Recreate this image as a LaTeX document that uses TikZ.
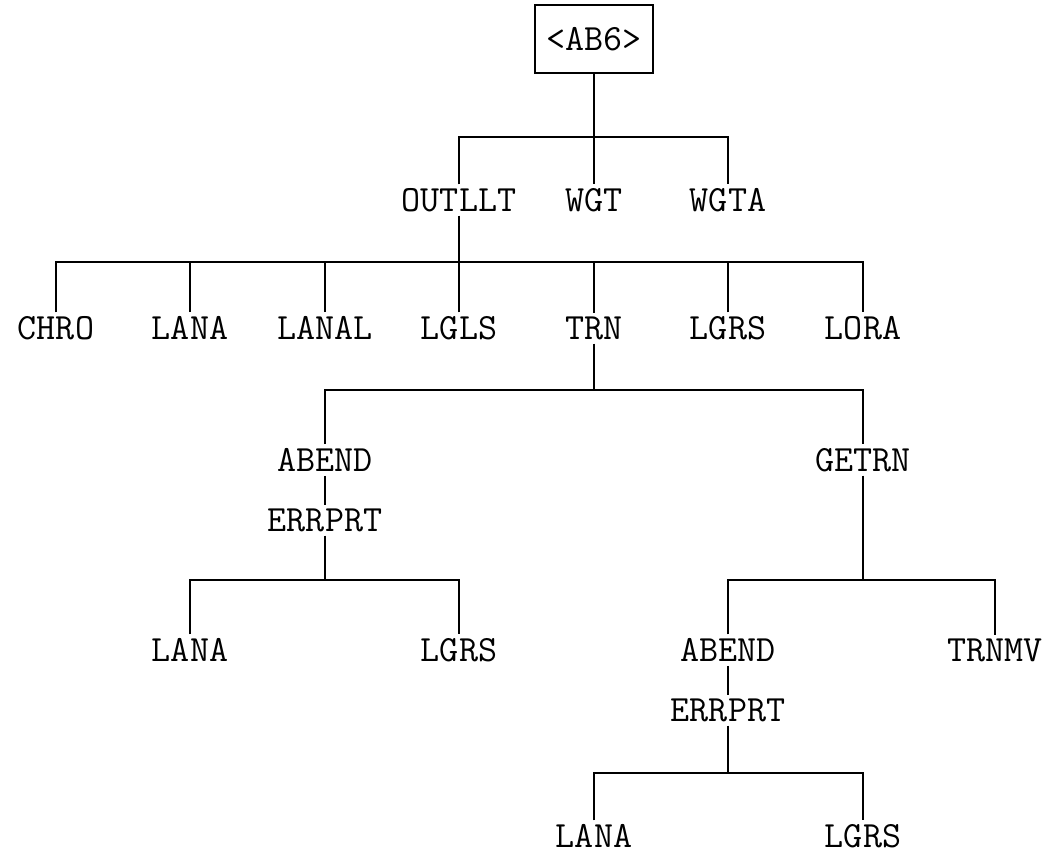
\documentclass[tikz,border=0pt]{standalone}
\usepackage{fontspec}
\usetikzlibrary{positioning}

\begin{document}
\begin{tikzpicture}[
  x=1pt,y=-1pt,
  routine/.style={font=\fontsize{37}{40}\selectfont\ttfamily,inner sep=4pt,text depth=0pt},
  rootbox/.style={routine,draw,line width=1.5pt,minimum width=118pt,minimum height=68pt},
  link/.style={line width=1.5pt}
]
\useasboundingbox (0,0) rectangle (1054,855);
% top level
\node[rootbox] (root) at (594,39) {<AB6>};
\node[routine] (outllt) at (459,200) {OUTLLT};
\node[routine] (wgt) at (594,200) {WGT};
\node[routine] (wgta) at (728,200) {WGTA};
% calls of OUTLLT
\node[routine] (chro) at (56,328) {CHRO};
\node[routine] (lana) at (190,328) {LANA};
\node[routine] (lanal) at (325,328) {LANAL};
\node[routine] (lgls) at (459,328) {LGLS};
\node[routine] (trn) at (594,328) {TRN};
\node[routine] (lgrs) at (728,328) {LGRS};
\node[routine] (lora) at (863,328) {LORA};
% calls of TRN
\node[routine] (abend) at (325,460) {ABEND};
\node[routine] (getrn) at (863,460) {GETRN};
\node[routine] (errprt) at (325,520) {ERRPRT};
\node[routine] (lanaA) at (190,650) {LANA};
\node[routine] (lgrsA) at (459,650) {LGRS};
% calls of GETRN
\node[routine] (abendB) at (728,650) {ABEND};
\node[routine] (trnmv) at (995,650) {TRNMV};
\node[routine] (errprtB) at (728,710) {ERRPRT};
\node[routine] (lanaB) at (594,836) {LANA};
\node[routine] (lgrsB) at (863,836) {LGRS};

% junctions
\coordinate (j0) at (594,137);
\coordinate (j1) at (459,262);
\coordinate (j2) at (594,390);
\coordinate (j3) at (325,580);
\coordinate (j4) at (863,580);
\coordinate (j5) at (728,773);

\draw[link] (root) -- (j0);
\draw[link] (outllt.north) |- (j0) -| (wgta.north);
\draw[link] (j0) -- (wgt.north);

\draw[link] (outllt) -- (j1);
\draw[link] (chro.north) |- (j1) -| (lora.north);
\foreach \n in {lana,lanal,lgls,trn,lgrs}
  \draw[link] (\n.north) -- (\n.north |- j1);

\draw[link] (trn) -- (j2);
\draw[link] (abend.north) |- (j2) -| (getrn.north);
\draw[link] (abend) -- (errprt);
\draw[link] (errprt) -- (j3);
\draw[link] (lanaA.north) |- (j3) -| (lgrsA.north);

\draw[link] (getrn) -- (j4);
\draw[link] (abendB.north) |- (j4) -| (trnmv.north);
\draw[link] (abendB) -- (errprtB);
\draw[link] (errprtB) -- (j5);
\draw[link] (lanaB.north) |- (j5) -| (lgrsB.north);
\end{tikzpicture}
\end{document}
